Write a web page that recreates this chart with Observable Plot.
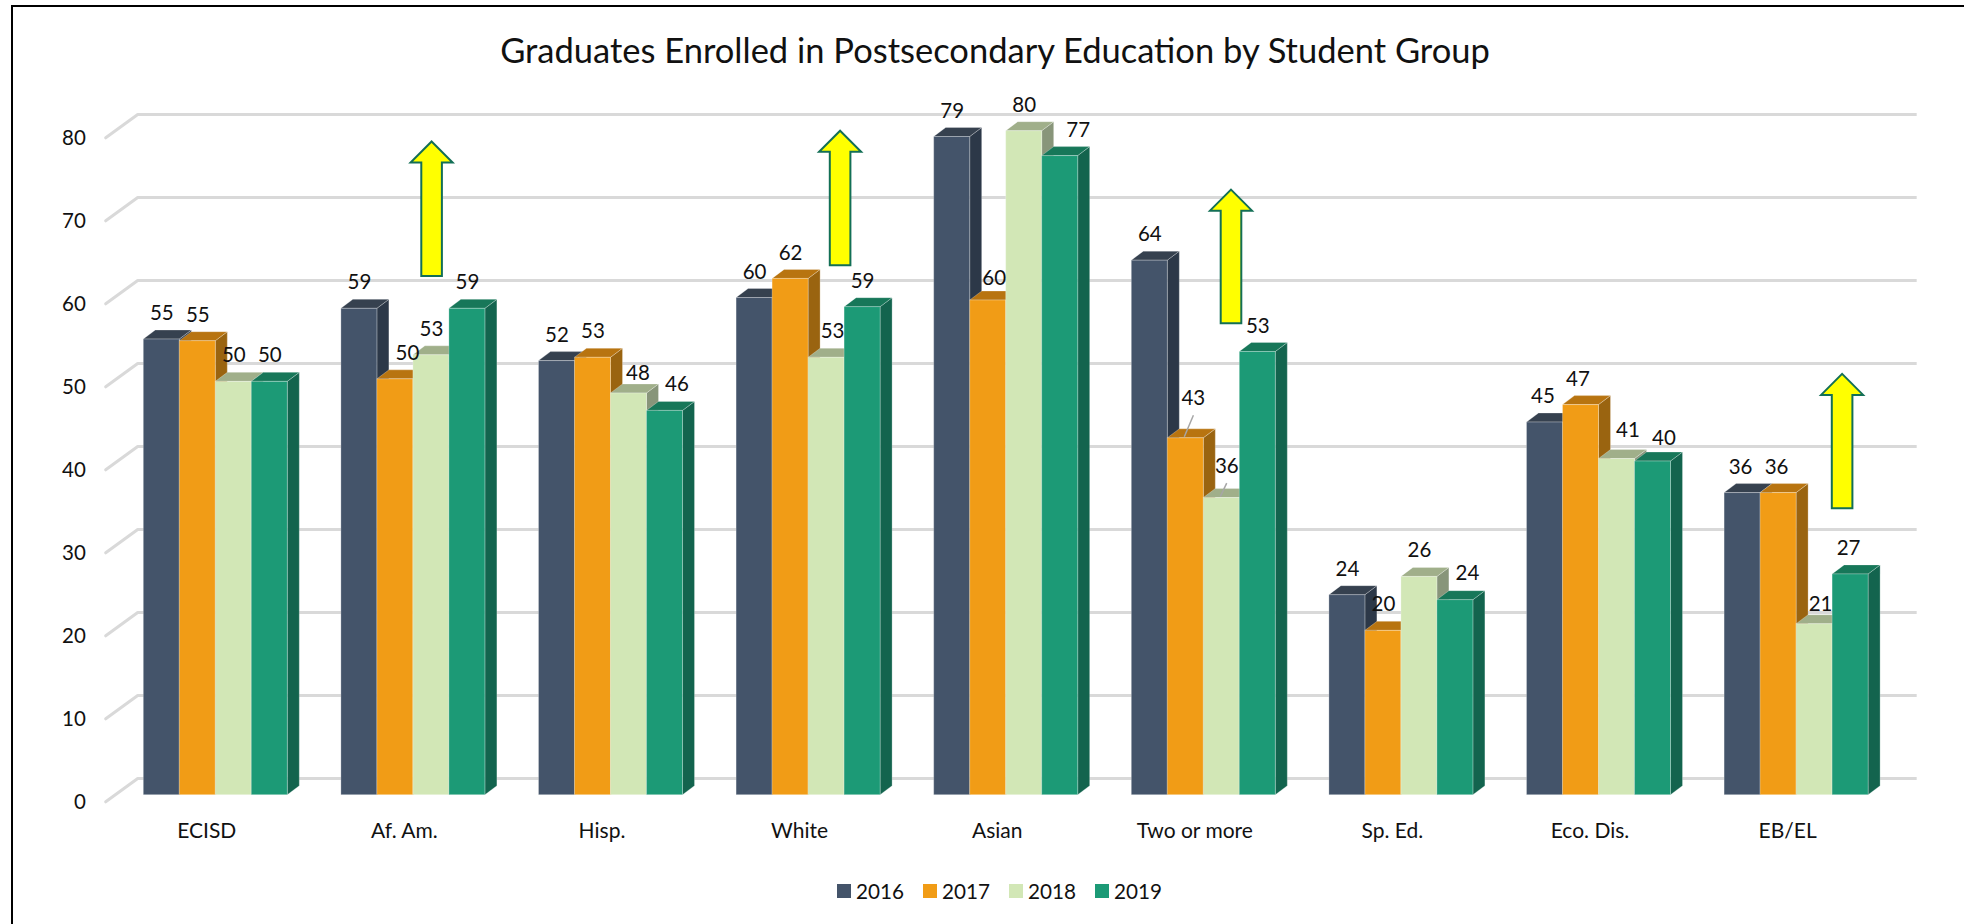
<!DOCTYPE html>
<html>
<head>
<meta charset="utf-8">
<script src="https://cdn.jsdelivr.net/npm/d3@7"></script>
<script src="https://cdn.jsdelivr.net/npm/@observablehq/plot@0.6"></script>
<style>
html,body{margin:0;padding:0;background:#fff;overflow:hidden}
#page{position:relative;width:1964px;height:924px;overflow:hidden;font-family:Lato,sans-serif;color:#111}
#frame{position:absolute;left:11px;top:5px;right:-4px;bottom:-4px;border-left:2px solid #000;border-top:2px solid #000}
#title{position:relative;height:70px;text-align:center;font-size:34.5px;box-sizing:border-box;padding-left:26px;padding-top:20px;line-height:60px}
#chart{position:relative}
#chart svg{display:block;background:transparent;overflow:visible}
#legend{position:relative}
#legend svg{margin-right:5px !important}
#legend span{margin-right:19px !important}
</style>
</head>
<body>
<div id="page"><div id="frame"></div><div id="title">Graduates Enrolled in Postsecondary Education by Student Group</div><div id="chart"></div><div id="legend"></div></div>
<script>
const categories = ["ECISD","Af. Am.","Hisp.","White","Asian","Two or more","Sp. Ed.","Eco. Dis.","EB/EL"];
const years = ["2016","2017","2018","2019"];
const v2016 = [54.9,58.6,52.3,59.9,79.3,64.4,24.1,44.9,36.4];
const v2017 = [54.7,50.1,52.7,62.2,59.6,43.0,19.8,47.0,36.4];
const v2018 = [49.8,53.0,48.4,52.7,80.0,35.8,26.3,40.5,20.6];
const v2019 = [49.8,58.6,46.3,58.8,77.0,53.4,23.5,40.2,26.6];
const yTicks = [0,10,20,30,40,50,60,70,80];
const arrows = [
  {category:"Af. Am.",year:"2018",shift:0.7,tip:78.7,base:62.5},
  {category:"White",year:"2018",shift:14,tip:80.0,base:63.8},
  {category:"Two or more",year:"2018",shift:9.7,tip:72.9,base:56.8},
  {category:"EB/EL",year:"2019",shift:-8,tip:50.7,base:34.5}
];
// label placement tweaks (px) relative to the default spot above a bar
const labelNudges = {
  "Af. Am.|2017":[12,0],"Hisp.|2018":[9,6],"Hisp.|2019":[12,0],"White|2018":[6,0],
  "Asian|2017":[6,4],"Asian|2019":[18,0],"Two or more|2017":[7.5,-14],"Two or more|2018":[5,-6],
  "Sp. Ed.|2019":[12,-1],"Eco. Dis.|2016":[-2,0],"Eco. Dis.|2017":[-3,0],"Eco. Dis.|2018":[11,-3],
  "Eco. Dis.|2019":[11,3],"EB/EL|2016":[-2,0],"EB/EL|2017":[-2,0],"EB/EL|2018":[6,6],"EB/EL|2019":[-2,0]
};
const leaderKeys = ["Two or more|2017","Two or more|2018"];

const frontColors = ["#44546A","#F19C16","#D2E7B6","#1C9A76"];
const sideColors = ["#2C3848","#9A6410","#88957A","#13644E"];
const topColors = ["#36414F","#B87410","#A0AF8A","#177759"];
const series = [v2016,v2017,v2018,v2019];
const rows = categories.flatMap((category,i)=>years.map((year,j)=>({category,year,value:series[j][i],key:category+"|"+year})));

const FONT = "Lato, sans-serif";
const NS = "http://www.w3.org/2000/svg";
const DX = 12, DY = 9;
function poly(d,fill,extra){
  const p = document.createElementNS(NS,"path");
  p.setAttribute("d",d); p.setAttribute("fill",fill);
  if(extra) for(const k in extra) p.setAttribute(k,extra[k]);
  return p;
}
function bar3d(j){
  const data = rows.filter(d=>d.year===years[j]);
  return Plot.barY(data,{fx:"category",x:"year",y:"value",fill:"year",stroke:"#fff",strokeOpacity:0.25,strokeWidth:1,
    render(index,scales,values,dims,ctx,next){
      const g = next(index,scales,values,dims,ctx);
      const first = g.firstChild;
      const w = scales.x.bandwidth();
      for(const i of index){
        const x0 = scales.x(years[j]), yt = scales.y(data[i].value), yb = scales.y(0);
        g.insertBefore(poly(`M${x0+w},${yt}L${x0+w+DX},${yt-DY}L${x0+w+DX},${yb-DY}L${x0+w},${yb}Z`,sideColors[j]),first);
        g.insertBefore(poly(`M${x0},${yt}L${x0+DX},${yt-DY}L${x0+w+DX},${yt-DY}L${x0+w},${yt}Z`,topColors[j]),first);
      }
      return g;
    }});
}
const textOpts = {fx:"category",x:"year",y:"value",text:d=>d3.format(".0f")(d.value),fontSize:20.5,fontFamily:FONT,fill:"#111"};
const BASE_DY = -26;
const labelMarks = [
  Plot.text(rows.filter(d=>!labelNudges[d.key]),{...textOpts,dy:BASE_DY}),
  ...rows.filter(d=>labelNudges[d.key]).map(d=>Plot.text([d],{...textOpts,dx:labelNudges[d.key][0],dy:BASE_DY+labelNudges[d.key][1]}))
];
const leaderRows = rows.filter(d=>leaderKeys.includes(d.key));
const leaderMark = Plot.ruleX(leaderRows,{fx:"category",x:"year",y:"value",
  render(index,scales,values,dims,ctx){
    const g = document.createElementNS(NS,"g");
    for(const i of index){
      const d = leaderRows[i], [dx,dy] = labelNudges[d.key];
      const cx = scales.x(d.year)+scales.x.bandwidth()/2, yt = scales.y(d.value);
      g.appendChild(poly(`M${cx+dx*1.08},${yt+BASE_DY+dy+17.5}L${cx-1},${yt-1}`,"none",{stroke:"#a6a6a6","stroke-width":1.5}));
    }
    return g;
  }});
const arrowMark = Plot.ruleX(arrows,{fx:"category",x:"year",y1:"base",y2:"tip",
  render(index,scales,values,dims,ctx){
    const g = document.createElementNS(NS,"g");
    for(const i of index){
      const a = arrows[i];
      const cx = scales.x(a.year)+scales.x.bandwidth()/2+a.shift, t = scales.y(a.tip), b = scales.y(a.base);
      const hw=21, sw=10.3, hh=21;
      g.appendChild(poly(`M${cx},${t}L${cx+hw},${t+hh}L${cx+sw},${t+hh}L${cx+sw},${b}L${cx-sw},${b}L${cx-sw},${t+hh}L${cx-hw},${t+hh}Z`,"#FFFF00",{stroke:"#136F56","stroke-width":2}));
    }
    return g;
  }});
// Back-wall gridlines: drawn once (from the first facet) and stretched over the full width through negative insets.
// The mark's dy already lifts its group to the back wall, so the floor-side diagonals are offset from there.
const gridRows = yTicks.map(value=>({value,category:categories[0]}));
const gridMark = Plot.ruleY(gridRows,{fx:"category",y:"value",dy:-16.7,stroke:"#d9d9d9",strokeWidth:3,insetLeft:-5.3,insetRight:-1629.4,
  render(index,scales,values,dims,ctx,next){
    const g = next(index,scales,values,dims,ctx);
    for(const i of index){
      const y = scales.y(gridRows[i].value);
      g.appendChild(poly(`M${dims.marginLeft-37.6},${y+23.3}L${dims.marginLeft-5.6},${y}`,"none",{stroke:"#d9d9d9","stroke-width":3,"stroke-linecap":"round"}));
    }
    return g;
  }});

const chart = Plot.plot({
  width:1964,height:790,
  marginLeft:143.3,marginRight:95.9,marginTop:60.7,marginBottom:65.3,
  style:{fontFamily:FONT,fontSize:"20px",background:"transparent",color:"#111"},
  fx:{domain:categories,padding:0.2713,round:false,label:null},
  x:{domain:years,type:"band",padding:0,round:false,axis:null},
  y:{domain:[0,80],label:null},
  color:{type:"ordinal",domain:years,range:frontColors},
  marks:[
    gridMark,
    Plot.axisY({ticks:yTicks,anchor:"left",tickSize:0,tickPadding:0,dx:-58,dy:7,label:null,fontSize:20.5,fontFamily:FONT,fill:"#111"}),
    Plot.axisFx({anchor:"bottom",tickSize:0,tickPadding:28,dx:-9,label:null,fontSize:21,fontFamily:FONT,fill:"#111"}),
    ...years.map((_,j)=>bar3d(j)),
    leaderMark,
    ...labelMarks,
    arrowMark
  ]
});
document.getElementById("chart").appendChild(chart);
const legend = Plot.legend({color:{type:"ordinal",domain:years,range:frontColors},swatchSize:14,marginLeft:837,
  style:{fontFamily:FONT,fontSize:"20.7px",color:"#111",height:"auto",marginTop:"14px"}});
document.getElementById("legend").appendChild(legend);
</script>
</body>
</html>
